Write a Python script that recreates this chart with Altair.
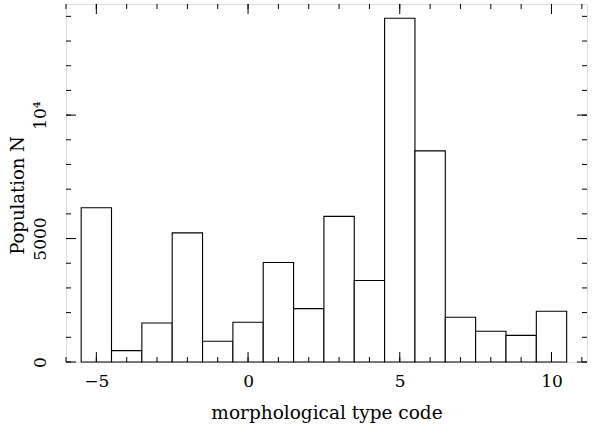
import altair as alt
import pandas as pd

codes = [-5, -4, -3, -2, -1, 0, 1, 2, 3, 4, 5, 6, 7, 8, 9, 10]
counts = [6250, 460, 1580, 5230, 840, 1610, 4030, 2160, 5900, 3300, 13920, 8550, 1810, 1245, 1080, 2055]

x_major = [-5, 0, 5, 10]
x_minor = list(range(-6, 12))
y_major = [0, 5000, 10000]
y_minor = list(range(0, 15000, 1000))

W, H = 521, 358
XDOM = [-6, 11.17]
YDOM = [0, 14500]
FONT = "DejaVu Serif"

df = pd.DataFrame({"code": codes, "count": counts})

xs = alt.Scale(domain=XDOM, nice=False, zero=False)
ys = alt.Scale(domain=YDOM, nice=False, zero=False)

bars = alt.Chart(df).transform_calculate(
    lo="datum.code - 0.5", hi="datum.code + 0.5"
).mark_rect(fill="white", stroke="black", strokeWidth=1.1).encode(
    x=alt.X("lo:Q", scale=xs,
            axis=alt.Axis(values=x_major, ticks=False, domain=False, grid=False,
                          labelExpr="replace(datum.label, '-', '−')",
                          labelFont=FONT, labelFontSize=17, labelColor="black",
                          labelPadding=11,
                          title="morphological type code", titleFont=FONT,
                          titleFontSize=18.5, titleFontWeight="normal", titleColor="black",
                          titleY=50, titleBaseline="middle")),
    x2="hi:Q",
    y=alt.Y("count:Q", scale=ys,
            axis=alt.Axis(values=y_major, ticks=False, domain=False, grid=False,
                          labelExpr="datum.value == 10000 ? '10⁴' : datum.label",
                          labelAngle=270, labelAlign="center", labelBaseline="bottom",
                          labelFont=FONT, labelFontSize=17, labelColor="black",
                          labelPadding=17, format="d",
                          title="Population N", titleFont=FONT, titleFontSize=18,
                          titleFontWeight="normal", titleColor="black",
                          titleAngle=270, titleX=-48, titleY=191,
                          titleAlign="center", titleBaseline="middle")),
    y2=alt.datum(0),
)

def xticks(vals, ln):
    d = pd.DataFrame({"v": vals})
    bot = alt.Chart(d).mark_rule(color="black", strokeWidth=1).encode(
        x=alt.X("v:Q", scale=xs), y=alt.value(H), y2=alt.value(H - ln))
    top = alt.Chart(d).mark_rule(color="black", strokeWidth=1).encode(
        x=alt.X("v:Q", scale=xs), y=alt.value(0), y2=alt.value(ln))
    return [bot, top]

def yticks(vals, ln):
    d = pd.DataFrame({"v": vals})
    left = alt.Chart(d).mark_rule(color="black", strokeWidth=1).encode(
        y=alt.Y("v:Q", scale=ys), x=alt.value(0), x2=alt.value(ln))
    right = alt.Chart(d).mark_rule(color="black", strokeWidth=1).encode(
        y=alt.Y("v:Q", scale=ys), x=alt.value(W), x2=alt.value(W - ln))
    return [left, right]

layers = [bars] + xticks(x_minor, 5) + xticks(x_major, 10) + yticks(y_minor, 5) + yticks(y_major, 10)

chart = alt.layer(*layers).properties(
    width=W, height=H,
    autosize=alt.AutoSizeParams(type="none"),
    padding={"left": 66, "top": 4, "right": 8, "bottom": 72},
).configure_view(stroke="black", strokeWidth=1.2).configure(background="white")

chart.save("out.html", embed_options={"renderer": "svg", "actions": False})
